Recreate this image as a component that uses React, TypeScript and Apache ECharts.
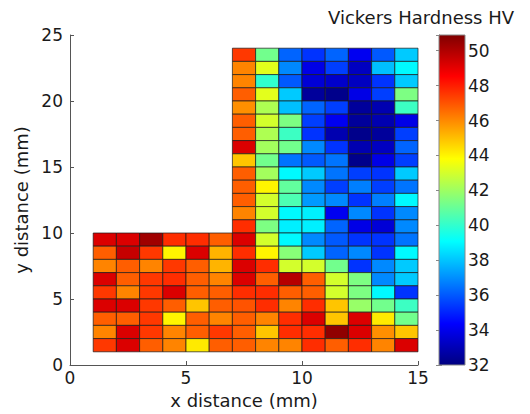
import React, { useEffect, useRef } from "react";
import * as echarts from "echarts";

// Cell centres (mm)
const leftX = [1.5, 2.5, 3.5, 4.5, 5.5, 6.5];
const leftY = [9.5, 8.5, 7.5, 6.5, 5.5, 4.5, 3.5, 2.5, 1.5]; // top to bottom
const rightX = [7.5, 8.5, 9.5, 10.5, 11.5, 12.5, 13.5, 14.5];
const rightY = [
  23.5, 22.5, 21.5, 20.5, 19.5, 18.5, 17.5, 16.5, 15.5, 14.5, 13.5, 12.5,
  11.5, 10.5, 9.5, 8.5, 7.5, 6.5, 5.5, 4.5, 3.5, 2.5, 1.5,
]; // top to bottom

// Vickers hardness (HV), rows from top to bottom
const leftHardness = [
  [49.2, 49.2, 50.3, 47.7, 47.7, 46.8],
  [46.8, 49.6, 47.5, 44.0, 49.2, 45.2],
  [46.1, 46.8, 46.1, 47.5, 46.8, 45.2],
  [49.2, 46.8, 47.5, 47.7, 46.8, 46.1],
  [47.5, 46.1, 47.5, 49.2, 46.8, 46.8],
  [49.2, 49.2, 47.5, 46.8, 44.9, 46.8],
  [46.8, 46.8, 47.5, 44.0, 46.8, 46.1],
  [46.1, 49.2, 47.5, 46.1, 46.8, 47.5],
  [47.5, 49.2, 46.8, 46.1, 44.2, 46.8],
];
const rightHardness = [
  [47.5, 41.2, 36.2, 35.3, 36.2, 34.1, 36.0, 38.1],
  [46.1, 43.3, 36.9, 33.9, 35.5, 33.2, 37.9, 39.0],
  [46.1, 40.0, 36.0, 33.6, 33.4, 33.2, 35.3, 38.1],
  [46.8, 43.3, 38.1, 32.5, 32.2, 33.9, 35.5, 41.4],
  [45.9, 42.3, 37.9, 36.2, 35.5, 32.5, 32.9, 40.2],
  [46.8, 43.0, 41.4, 35.5, 34.1, 32.5, 32.9, 33.9],
  [46.8, 42.3, 40.2, 35.3, 32.9, 32.2, 32.5, 35.5],
  [49.2, 42.1, 41.2, 36.9, 35.3, 32.9, 33.2, 36.2],
  [44.9, 41.2, 36.5, 36.0, 36.5, 32.2, 33.9, 35.5],
  [46.8, 42.1, 39.0, 38.1, 36.5, 35.5, 35.3, 38.1],
  [46.8, 44.0, 40.9, 36.9, 35.5, 36.7, 35.5, 36.5],
  [46.8, 43.0, 40.5, 37.2, 36.9, 35.3, 36.7, 39.0],
  [46.1, 43.0, 39.0, 38.8, 34.1, 36.9, 35.3, 36.9],
  [47.7, 41.4, 38.8, 38.8, 36.2, 33.9, 33.6, 36.9],
  [49.2, 43.0, 39.0, 36.9, 36.0, 35.3, 35.3, 36.5],
  [47.7, 44.0, 41.6, 38.1, 36.2, 36.9, 35.3, 39.0],
  [49.2, 47.7, 43.0, 43.0, 41.2, 35.3, 36.9, 38.1],
  [49.2, 46.8, 49.9, 46.8, 43.0, 41.4, 36.9, 38.1],
  [47.7, 47.7, 46.8, 46.8, 43.0, 41.4, 39.0, 35.3],
  [47.0, 47.7, 46.1, 47.7, 44.9, 41.9, 41.2, 40.2],
  [46.8, 46.1, 47.7, 49.2, 44.9, 49.2, 44.2, 41.2],
  [46.8, 44.9, 47.7, 47.7, 50.6, 49.2, 45.9, 44.9],
  [46.8, 46.1, 46.1, 47.7, 46.8, 47.7, 46.1, 49.2],
];

const xTicks = [0, 5, 10, 15];
const yTicks = [0, 5, 10, 15, 20, 25];
const colorMin = 32;
const colorMax = 50.9;
const jetColors = [
  "#000080", "#0000ff", "#0080ff", "#00ffff", "#80ff80",
  "#ffff00", "#ff8000", "#ff0000", "#800000",
];

const FONT = "DejaVu Sans";
const TEXT = "#1a1a1a";
const AXIS = "#555555";

function buildCells() {
  const cells: number[][] = [];
  leftY.forEach((y, r) => leftX.forEach((x, c) => cells.push([x, y, leftHardness[r][c]])));
  rightY.forEach((y, r) => rightX.forEach((x, c) => cells.push([x, y, rightHardness[r][c]])));
  return cells;
}

export default function App() {
  const ref = useRef<HTMLDivElement>(null);
  useEffect(() => {
    if (!ref.current) return;
    const chart = echarts.init(ref.current, null, { renderer: "svg" });
    const cells = buildCells();
    const option: any = {
      animation: false,
      backgroundColor: "#ffffff",
      textStyle: { fontFamily: FONT },
      graphic: [
        {
          type: "text",
          left: 328,
          top: 8,
          style: { text: "Vickers Hardness HV", fontFamily: FONT, fontSize: 18, fill: TEXT },
        },
      ],
      visualMap: {
        show: false,
        type: "continuous",
        min: colorMin,
        max: colorMax,
        dimension: 2,
        seriesIndex: 0,
        inRange: { color: jetColors },
      },
      grid: [
        { left: 70, right: 112, top: 35, bottom: 49 },
        { left: 439, width: 26, top: 35, bottom: 49 },
      ],
      xAxis: [
        {
          gridIndex: 0,
          type: "value",
          min: xTicks[0],
          max: xTicks[xTicks.length - 1],
          interval: 5,
          name: "x distance (mm)",
          nameLocation: "middle",
          nameGap: 26,
          nameTextStyle: { fontFamily: FONT, fontSize: 18, color: TEXT },
          axisLine: { show: true, onZero: false, lineStyle: { color: AXIS, width: 1 } },
          axisTick: { show: true, inside: true, length: 4, lineStyle: { color: AXIS } },
          axisLabel: { fontFamily: FONT, fontSize: 17, color: TEXT, margin: 4 },
          splitLine: { show: false },
        },
        { gridIndex: 1, type: "value", min: 0, max: 1, show: false },
      ],
      yAxis: [
        {
          gridIndex: 0,
          type: "value",
          min: yTicks[0],
          max: yTicks[yTicks.length - 1],
          interval: 5,
          name: "y distance (mm)",
          nameLocation: "middle",
          nameGap: 38,
          nameTextStyle: { fontFamily: FONT, fontSize: 18, color: TEXT },
          axisLine: { show: true, onZero: false, lineStyle: { color: AXIS, width: 1 } },
          axisTick: { show: true, inside: true, length: 4, lineStyle: { color: AXIS } },
          axisLabel: { fontFamily: FONT, fontSize: 17, color: TEXT, margin: 7 },
          splitLine: { show: false },
        },
        {
          gridIndex: 1,
          type: "value",
          position: "right",
          min: colorMin,
          max: colorMax,
          interval: 2,
          axisLine: { show: true, lineStyle: { color: "#888888", width: 1 } },
          axisTick: { show: true, inside: true, length: 3, lineStyle: { color: "#888888" } },
          axisLabel: {
            fontFamily: FONT,
            fontSize: 17,
            color: TEXT,
            margin: 3,
            formatter: (v: number) => (Number.isInteger(v) ? String(v) : ""),
          },
          splitLine: { show: false },
        },
        {
          gridIndex: 1,
          type: "value",
          position: "left",
          min: colorMin,
          max: colorMax,
          interval: 2,
          axisLine: { show: true, lineStyle: { color: "#888888", width: 1 } },
          axisTick: { show: true, inside: true, length: 3, lineStyle: { color: "#888888" } },
          axisLabel: { show: false },
          splitLine: { show: false },
        },
      ],
      series: [
        {
          type: "custom",
          xAxisIndex: 0,
          yAxisIndex: 0,
          data: cells,
          encode: { x: 0, y: 1 },
          renderItem: (params: any, api: any) => {
            const x = api.value(0);
            const y = api.value(1);
            const p0 = api.coord([x - 0.5, y + 0.5]);
            const p1 = api.coord([x + 0.5, y - 0.5]);
            return {
              type: "rect",
              shape: { x: p0[0], y: p0[1], width: p1[0] - p0[0], height: p1[1] - p0[1] },
              style: { fill: api.visual("color"), stroke: "#1a1a1a", lineWidth: 0.7 },
            };
          },
        },
        {
          type: "custom",
          xAxisIndex: 1,
          yAxisIndex: 1,
          data: [[0, colorMin, 1, colorMax]],
          encode: { x: [0, 2], y: [1, 3] },
          renderItem: (params: any, api: any) => {
            const p0 = api.coord([api.value(0), api.value(3)]);
            const p1 = api.coord([api.value(2), api.value(1)]);
            return {
              type: "rect",
              shape: { x: p0[0], y: p0[1], width: p1[0] - p0[0], height: p1[1] - p0[1] },
              style: {
                fill: new echarts.graphic.LinearGradient(
                  0, 1, 0, 0,
                  jetColors.map((c, i) => ({ offset: i / (jetColors.length - 1), color: c }))
                ),
                stroke: "#888888",
                lineWidth: 1,
              },
            };
          },
        },
      ],
    };
    chart.setOption(option);
    return () => chart.dispose();
  }, []);
  return (
    <div
      ref={ref}
      style={{ position: "fixed", left: 0, top: 0, width: 530, height: 414, background: "#fff" }}
    />
  );
}
